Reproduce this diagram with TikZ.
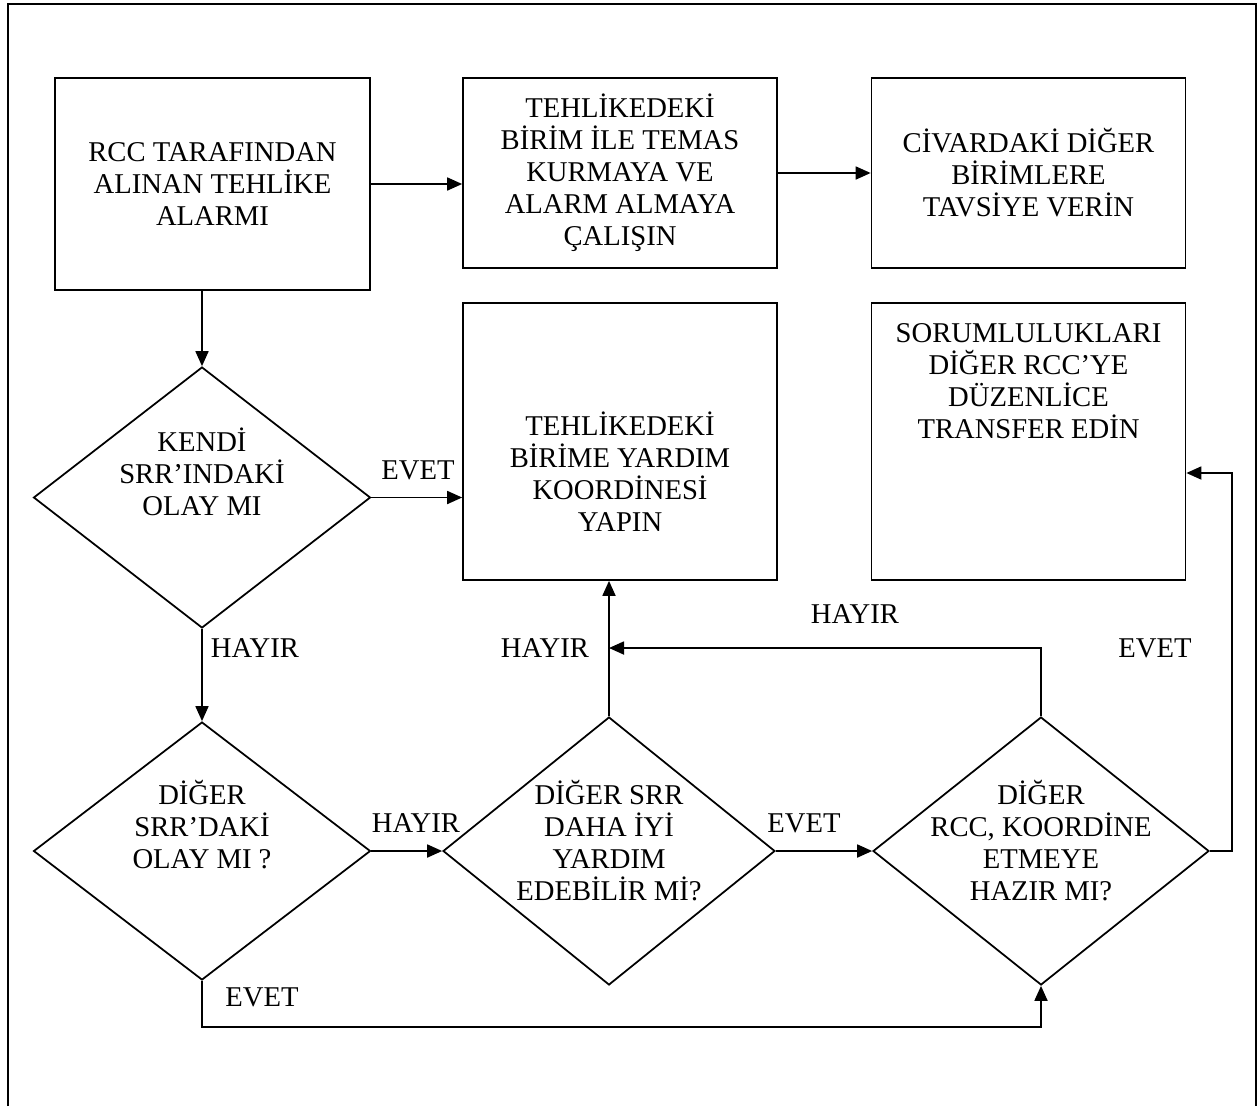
\documentclass[tikz,border=0pt]{standalone}
\usepackage{fontspec}
\setmainfont{Liberation Serif}
\usetikzlibrary{calc,shapes,arrows.meta}

\tikzset{
	box/.style={draw, minimum width=6.28cm, align=center, inner sep=0pt},
	dia/.style={draw, diamond, inner sep=0pt},
	txt/.style={align=center, inner sep=0pt},
	lbl/.style={inner sep=0pt},
}

\begin{document}
\begin{tikzpicture}[x=0.02cm, y=-0.02cm, line width=1pt,
		font=\fontsize{16.3}{18.2}\selectfont,
		>={Triangle[length=0.3cm,width=0.26cm]}]
		\useasboundingbox (0,0) rectangle (1260,1106);
		\draw (8,1106) -- (8,4) -- (1256,4) -- (1256,1106);

		% upper row of boxes
		\draw (212.5,184) node[box, minimum width=6.3cm, minimum height=4.24cm] (b1) {RCC TARAFINDAN\\ALINAN TEHLİKE\\ALARMI};
		\draw (620,173) node[box, minimum height=3.8cm] (b2) {TEHLİKEDEKİ\\BİRİM İLE TEMAS\\KURMAYA VE\\ALARM ALMAYA\\ÇALIŞIN};
		\draw (1028.5,173) node[box, minimum height=3.8cm] (b3) {CİVARDAKİ DİĞER\\BİRİMLERE\\TAVSİYE VERİN};

		\draw (620,441.5) node[box, minimum height=5.54cm] (b4) {};
		\draw (1028.5,441.5) node[box, minimum height=5.54cm] (b5) {};
		\node[txt] (t4) at ([yshift=-0.6cm]b4.center) {TEHLİKEDEKİ\\BİRİME YARDIM\\KOORDİNESİ\\YAPIN};
		\node[txt] (t5) at ([yshift=1.2cm]b5.center) {SORUMLULUKLARI\\DİĞER RCC’YE\\DÜZENLİCE\\TRANSFER EDİN};

		% decisions
		\draw (202,497.5) node[dia, minimum width=6.74cm, minimum height=5.22cm] (d1) {};
		\draw (202,851) node[dia, minimum width=6.74cm, minimum height=5.16cm] (d2) {};
		\draw (609,851) node[dia, minimum width=6.64cm, minimum height=5.36cm] (d3) {};
		\draw (1041,851) node[dia, minimum width=6.72cm, minimum height=5.36cm] (d4) {};
		\node[txt] (td1) at ([yshift=0.52cm]d1.center) {KENDİ\\SRR’INDAKİ\\OLAY MI};
		\node[txt] (td2) at ([yshift=0.52cm]d2.center) {DİĞER\\SRR’DAKİ\\OLAY MI ?};
		\node[txt] (td3) at ([yshift=0.2cm]d3.center) {DİĞER SRR\\DAHA İYİ\\YARDIM\\EDEBİLİR Mİ?};
		\node[txt] (td4) at ([yshift=0.2cm]d4.center) {DİĞER\\RCC, KOORDİNE\\ETMEYE\\HAZIR MI?};

		% answers
		\draw (418,470) node[lbl] (l1) {EVET};
		\draw (255,648) node[lbl] (l2) {HAYIR};
		\draw (416,823) node[lbl] (l3) {HAYIR};
		\draw (804,823) node[lbl] (l4) {EVET};
		\draw (855,614) node[lbl] (l5) {HAYIR};
		\draw (545,648) node[lbl] (l6) {HAYIR};
		\draw (1155,648) node[lbl] (l7) {EVET};
		\draw (262,997) node[lbl] (l8) {EVET};

		\coordinate (c1) at (1041,648);
		\coordinate (c2) at (1232,851);
		\coordinate (c3) at (1232,473);
		\coordinate (c4) at (202,1027);

		\draw[->] (b1.east) -- (b1.east -| b2.west);
		\draw[->] (b2) -- (b3);
		\draw[->] (b1.south -| d1.north) -- (d1.north);
		\draw[->] (d1.east) -- (d1.east -| b4.west);
		\draw[->] (d1) -- (d2);
		\draw[->] (d2) -- (d3);
		\draw[->] (d3) -- (d4);
		\draw[->] (d3.north) -- (d3.north |- b4.south);
		\draw[->] (d4.north) -- (c1) -- (c1 -| d3.north);
		\draw[->] (d4.east) -- (c2) -- (c3) -- (c3 -| b5.east);
		\draw[->] (d2.south) -- (c4) -| (d4.south);

	\end{tikzpicture}
\end{document}
